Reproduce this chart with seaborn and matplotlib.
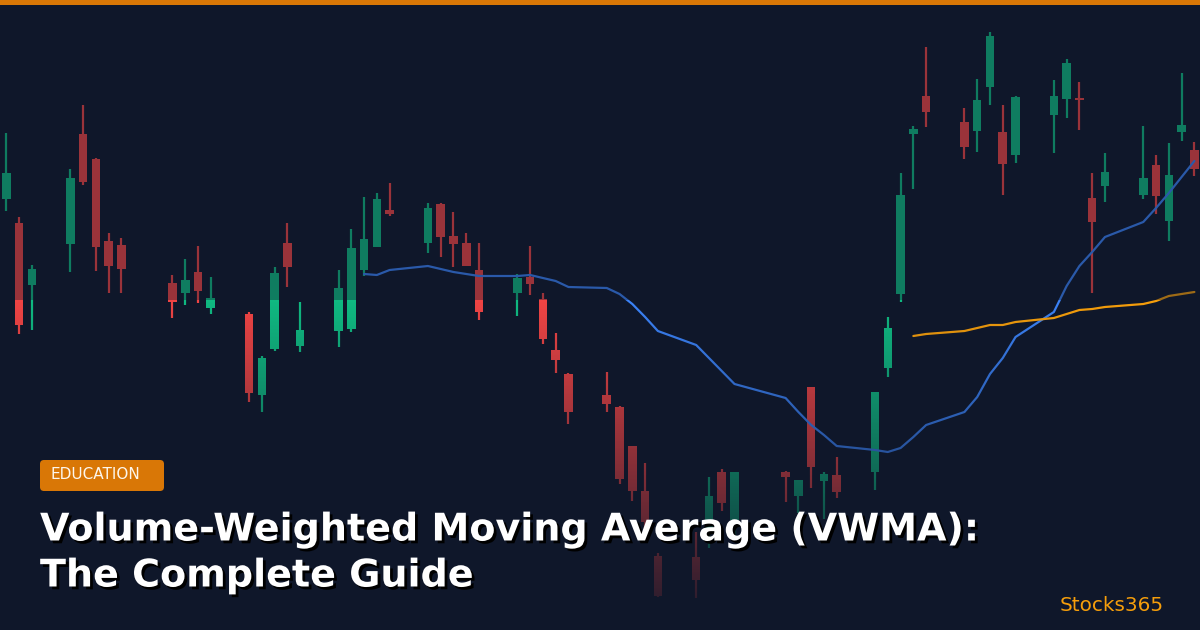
import matplotlib
matplotlib.use('Agg')
import matplotlib.pyplot as plt
import matplotlib.patheffects as pe
from matplotlib.patches import FancyBboxPatch, Rectangle
import numpy as np
import pandas as pd
import seaborn as sns

# Trading day number, weekends and the one holiday are simply missing
days = [0, 1, 2, 5, 6, 7, 8, 9, 13, 14, 15, 16, 19, 20, 21, 22, 23, 26, 27, 28, 29, 30,
        33, 34, 35, 36, 37, 40, 41, 42, 43, 44, 47, 48, 49, 50, 51, 54, 55, 56, 57,
        61, 62, 63, 64, 65, 68, 69, 70, 71, 72, 75, 76, 77, 78, 79, 82, 83, 84, 85, 86,
        89, 90, 91, 92, 93]
opens = [431, 407, 345, 386, 496, 471, 389, 385, 347, 337, 358, 322, 316, 235, 281, 387, 284, 299, 301, 360, 383, 420,
         387, 426, 394, 387, 360, 337, 353, 331, 280, 256, 235, 223, 184, 139, 74, 73, 102, 158, 110,
         158, 134, 243, 149, 155, 158, 262, 336, 496, 534, 508, 499, 543, 498, 475, 515, 531, 532, 432, 444,
         435, 465, 409, 498, 480]
highs = [497, 413, 365, 461, 525, 472, 397, 392, 355, 371, 384, 353, 318, 274, 363, 407, 328, 360, 401, 433, 437, 447,
         427, 427, 418, 397, 387, 356, 384, 337, 297, 257, 258, 224, 184, 167, 77, 98, 153, 161, 158,
         159, 150, 243, 158, 173, 238, 313, 457, 504, 583, 522, 551, 598, 525, 534, 550, 571, 548, 457, 477,
         504, 475, 487, 557, 488]
lows = [419, 296, 300, 358, 445, 359, 337, 337, 312, 325, 327, 316, 228, 218, 279, 343, 278, 283, 298, 354, 383, 414,
        377, 373, 363, 364, 310, 314, 335, 286, 257, 206, 218, 146, 129, 100, 33, 32, 82, 119, 95,
        128, 117, 142, 111, 132, 140, 253, 328, 441, 503, 471, 478, 525, 435, 467, 477, 512, 500, 337, 428,
        431, 416, 389, 489, 454]
closes = [457, 305, 361, 452, 448, 383, 364, 361, 328, 350, 339, 332, 237, 272, 357, 363, 300, 342, 382, 391, 431, 416,
          422, 393, 386, 364, 318, 352, 346, 291, 270, 218, 226, 151, 139, 108, 34, 50, 134, 127, 158,
          153, 150, 163, 156, 138, 238, 302, 435, 501, 518, 483, 530, 594, 466, 533, 534, 567, 530, 408, 458,
          452, 434, 455, 505, 461]

vwma_days = days[days.index(28):]
vwma = [356, 355, 360, 364, 361, 358, 356, 354, 354, 355, 352, 349, 343, 342, 336, 326, 313, 299, 285, 272, 259, 246,
        232, 218, 205, 195, 184, 180, 178, 182, 193, 205, 218, 233, 256, 272, 293, 318, 344, 364, 378, 393,
        408, 422, 437, 453, 469]
sma_days = days[days.index(71):]
sma = [294, 296, 299, 302, 305, 305, 308, 312, 316, 320, 321, 323, 326, 329, 334, 336, 338]

BG = '#0f172a'
UP = '#10b981'
DOWN = '#ef4444'
AMBER = '#d97706'

sns.set_theme(style='dark', rc={'axes.facecolor': BG, 'figure.facecolor': BG, 'axes.grid': False})
plt.rcParams['font.family'] = ['DejaVu Sans']

fig = plt.figure(figsize=(12, 6.3), dpi=100)
ax = fig.add_axes([0, 0, 1, 1])

df = pd.DataFrame({'day': days, 'open': opens, 'high': highs, 'low': lows, 'close': closes})
df['bottom'] = df[['open', 'close']].min(axis=1)
df['body'] = (df['open'] - df['close']).abs()
df['rising'] = df['close'] >= df['open']

# Wicks first, then the bodies from seaborn
for rising, color in [(True, UP), (False, DOWN)]:
    part = df[df['rising'] == rising]
    ax.vlines(part['day'], part['low'], part['high'], color=color, lw=1.6, zorder=1)
    sns.barplot(data=part, x='day', y='body', bottom=part['bottom'], native_scale=True, width=0.67,
                color=color, saturation=1, errorbar=None, linewidth=0, ax=ax, zorder=2)

sns.lineplot(x=vwma_days, y=vwma, color='#3b82f6', lw=1.6, ax=ax, zorder=3)
sns.lineplot(x=sma_days, y=sma, color='#f59e0b', lw=1.6, ax=ax, zorder=3)

ax.set_xlim(-0.5, 93.44)
ax.set_ylim(0, 630)
ax.set_axis_off()

# Dark veil over the chart: flat on the top part, fading out towards the bottom
veil = np.zeros((630, 1, 4))
veil[..., :3] = matplotlib.colors.to_rgb(BG)
row = np.arange(630)
veil[..., 3] = np.where(row < 300, 0.38, (row - 300) / 330 * 0.95).reshape(-1, 1)
ax.imshow(veil, extent=[-0.5, 93.44, 0, 630], origin='upper', aspect='auto', zorder=5, interpolation='nearest')

# Overlay in picture pixels for the banner parts
top = fig.add_axes([0, 0, 1, 1], facecolor='none')
top.set_xlim(0, 1200)
top.set_ylim(630, 0)
top.set_axis_off()

top.add_patch(Rectangle((0, 0), 1200, 5, color=AMBER, lw=0))
top.add_patch(FancyBboxPatch((40, 460), 124, 31, boxstyle='round,pad=0,rounding_size=4', fc=AMBER, ec='none'))
top.text(51, 474.5, 'EDUCATION', color='#fdf6ec', fontsize=11, va='center', ha='left')

shadow = [pe.SimplePatchShadow(offset=(2, -2), shadow_rgbFace='black', alpha=1), pe.Normal()]
top.text(40, 540.5, 'Volume-Weighted Moving Average (VWMA):', color='white', fontsize=27.4, fontweight='bold',
         va='baseline', path_effects=shadow)
top.text(40, 586.5, 'The Complete Guide', color='white', fontsize=27.4, fontweight='bold',
         va='baseline', path_effects=shadow)
top.text(1060, 611, 'Stocks365', color='#f59e0b', fontsize=14.4, va='baseline')

fig.savefig('out.png', dpi=100, facecolor=BG)
